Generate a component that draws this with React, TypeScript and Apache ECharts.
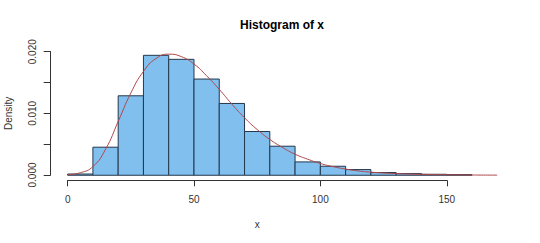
import React, { useEffect, useRef } from "react";
import * as echarts from "echarts";

const binStarts = [0, 10, 20, 30, 40, 50, 60, 70, 80, 90, 100, 110, 120, 130, 140, 150];
const binEnds = [10, 20, 30, 40, 50, 60, 70, 80, 90, 100, 110, 120, 130, 140, 150, 160];
const binDensity = [
  0.0002, 0.00454, 0.01286, 0.01941, 0.01876, 0.01557, 0.01162, 0.00708,
  0.0047, 0.00216, 0.00146, 0.00092, 0.00044, 0.00027, 0.00016, 0.0001,
];

const curveX = [0, 5, 10, 15, 20, 25, 30, 35, 40, 45, 50, 55, 60, 65, 70, 75, 80, 85, 90, 95, 100, 105, 110, 115, 120, 130, 140, 150, 160, 170];
const curveY = [
  0.0001, 0.0004, 0.0014, 0.0042, 0.0087, 0.0133, 0.0168, 0.0189, 0.0196, 0.0192,
  0.0180, 0.0161, 0.0139, 0.0115, 0.0093, 0.0074, 0.0058, 0.0045, 0.0034, 0.0026,
  0.0019, 0.0014, 0.0010, 0.0007, 0.0005, 0.00027, 0.00015, 0.00008, 0.00004, 0.00002,
];

const xTicks = [0, 150, 50];
const yTicks = [0, 0.02, 0.005];

const FONT = "Liberation Sans, Arial, sans-serif";
const AXIS_COLOR = "#333";

export default function App() {
  const ref = useRef<HTMLDivElement>(null);
  useEffect(() => {
    if (!ref.current) return;
    const chart = echarts.init(ref.current, null, { renderer: "svg" });
    const bars = binStarts.map((s, i) => [s, binEnds[i], binDensity[i]]);
    const curve = curveX.map((x, i) => [x, curveY[i]]);
    chart.setOption({
      animation: false,
      backgroundColor: "#fff",
      textStyle: { fontFamily: FONT },
      title: {
        text: "Histogram of x",
        left: 240,
        top: 19,
        padding: 0,
        textStyle: { fontSize: 12, fontWeight: "bold", color: "#000", fontFamily: FONT },
      },
      grid: [
        { left: 50.7, top: 49.2, width: 451.6, height: 131 },
        { left: 67.7, top: 179.3, width: 379.05, height: 1 },
        { left: 50.7, top: 51.7, width: 1, height: 123.3 },
      ],
      xAxis: [
        { type: "value", gridIndex: 0, min: -6.7, max: 172, show: false },
        {
          type: "value",
          gridIndex: 1,
          min: xTicks[0],
          max: xTicks[1],
          interval: xTicks[2],
          position: "bottom",
          splitLine: { show: false },
          axisLine: { show: true, lineStyle: { color: AXIS_COLOR, width: 1 } },
          axisTick: { show: true, inside: false, length: 6, lineStyle: { color: AXIS_COLOR } },
          axisLabel: { fontSize: 10, color: "#333", margin: 14, fontFamily: FONT },
          name: "x",
          nameLocation: "middle",
          nameGap: 39,
          nameTextStyle: { fontSize: 10, color: "#333", fontFamily: FONT },
        },
        { type: "value", gridIndex: 2, show: false, min: 0, max: 1 },
      ],
      yAxis: [
        { type: "value", gridIndex: 0, min: -0.0008, max: 0.0204, show: false },
        { type: "value", gridIndex: 1, show: false, min: 0, max: 1 },
        {
          type: "value",
          gridIndex: 2,
          min: yTicks[0],
          max: yTicks[1],
          interval: yTicks[2],
          position: "left",
          splitLine: { show: false },
          axisLine: { show: true, lineStyle: { color: AXIS_COLOR, width: 1 } },
          axisTick: { show: true, inside: false, length: 7, lineStyle: { color: AXIS_COLOR } },
          axisLabel: {
            fontSize: 10,
            color: "#333",
            rotate: 90,
            margin: 13,
            fontFamily: FONT,
            formatter: (v: number) =>
              Math.abs(Math.round(v * 1000) % 10) === 0 ? v.toFixed(3) : "",
          },
          name: "Density",
          nameLocation: "middle",
          nameRotate: 90,
          nameGap: 37,
          nameTextStyle: { fontSize: 10, color: "#333", fontFamily: FONT },
        },
      ],
      series: [
        {
          type: "custom",
          xAxisIndex: 0,
          yAxisIndex: 0,
          data: bars,
          encode: { x: [0, 1], y: 2 },
          renderItem: (params: any, api: any) => {
            const p0 = api.coord([api.value(0), api.value(2)]);
            const p1 = api.coord([api.value(1), 0]);
            return {
              type: "rect",
              shape: { x: p0[0], y: p0[1], width: p1[0] - p0[0], height: p1[1] - p0[1] },
              style: { fill: "#80bfee", stroke: "#24384c", lineWidth: 1 },
            };
          },
          z: 2,
        },
        {
          type: "line",
          xAxisIndex: 0,
          yAxisIndex: 0,
          data: curve,
          smooth: 0.5,
          showSymbol: false,
          symbol: "none",
          lineStyle: { color: "#b0474a", width: 1 },
          z: 3,
        },
      ],
    });
    return () => chart.dispose();
  }, []);
  return (
    <div
      ref={ref}
      style={{ position: "fixed", left: 0, top: 0, width: 540, height: 243 }}
    />
  );
}
